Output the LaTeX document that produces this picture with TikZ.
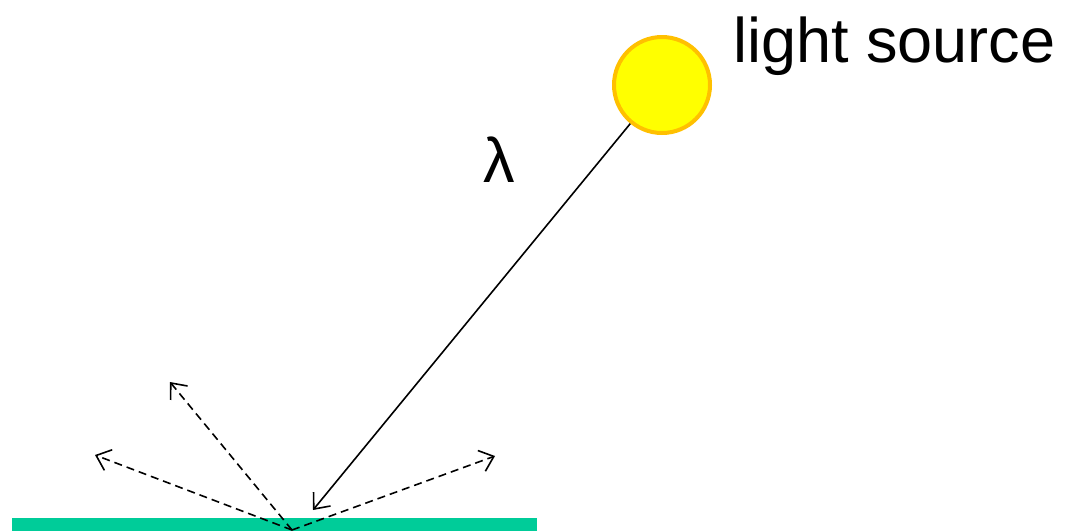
\documentclass[tikz,border=0pt]{standalone}
\usepackage{fontspec}
\setmainfont{Liberation Sans}
\usepackage{xcolor}
\usetikzlibrary{arrows.meta}

\definecolor{surfgreen}{RGB}{0,204,153}
\definecolor{sunyellow}{RGB}{255,255,0}
\definecolor{sunrim}{RGB}{255,192,0}

\begin{document}
\begin{tikzpicture}[
  x=1pt, y=-1pt,
  font=\fontsize{63}{70}\selectfont,
  ray/.style={line width=1.6pt, -{Straight Barb[length=13pt, width=22pt]}},
  scatter/.style={ray, dash pattern=on 8pt off 5pt},
  lamp/.style={circle, draw=sunrim, fill=sunyellow, line width=4pt,
               minimum size=96pt, inner sep=0pt},
  surface/.style={rectangle, fill=surfgreen, minimum width=525pt,
                  minimum height=13pt, inner sep=0pt},
  caption/.style={inner sep=0pt},
]
\useasboundingbox (0,0) rectangle (1073,531);

\node[surface] (floor) at (274.5,524.5) {};
\node[lamp] (sun) at (662,85) {};
\node[caption, anchor=base west] (srclabel) at (733,62) {light source};
\node[caption, anchor=base] (wavelen) at (499,182) {λ};

\coordinate (hit) at (292,530);
\coordinate (land) at (313,510);
\coordinate (up) at (170,382);
\coordinate (left) at (95,455);
\coordinate (right) at (495,456);

\draw[ray] (sun) -- (land);

% scattered light
\draw[scatter] (hit) -- (up);
\draw[scatter] (hit) -- (left);
\draw[scatter] (hit) -- (right);

\end{tikzpicture}
\end{document}
